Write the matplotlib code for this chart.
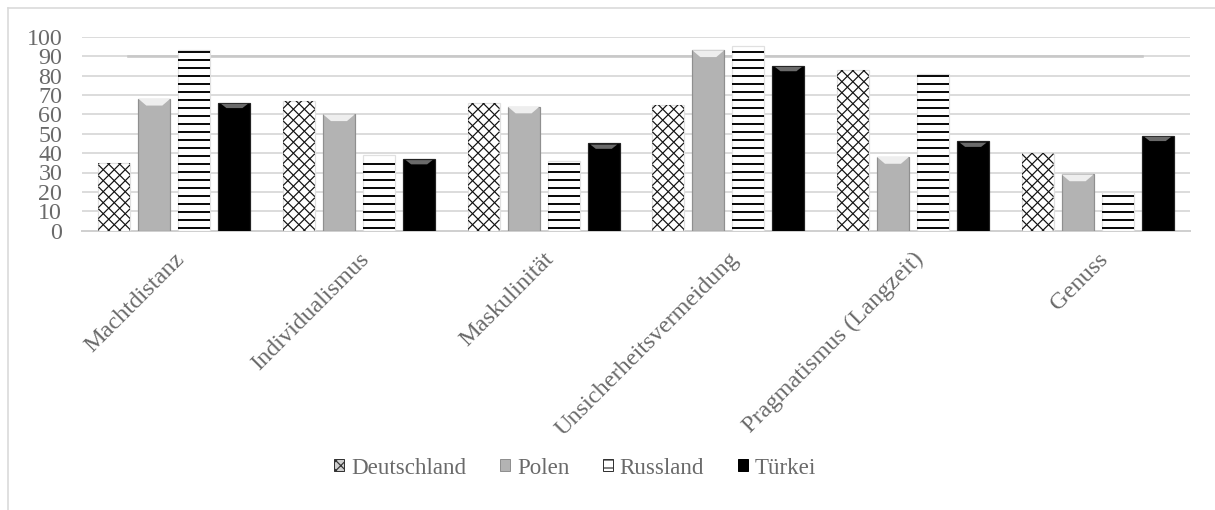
import numpy as np
import matplotlib
matplotlib.use("Agg")
import matplotlib.pyplot as plt
from matplotlib.lines import Line2D
from matplotlib.patches import Polygon, Patch
from matplotlib.collections import LineCollection

categories = ["Machtdistanz", "Individualismus", "Maskulinität",
              "Unsicherheitsvermeidung", "Pragmatismus (Langzeit)", "Genuss"]
deutschland = [35, 67, 66, 65, 83, 40]
polen = [68, 60, 64, 93, 38, 29]
russland = [93, 39, 36, 95, 81, 20]
tuerkei = [66, 37, 45, 85, 46, 49]
series_names = ["Deutschland", "Polen", "Russland", "Türkei"]
yticks = list(range(0, 101, 10))

plt.rcParams['font.family'] = ['Liberation Serif', 'DejaVu Serif']
plt.rcParams['hatch.linewidth'] = 0.6
TXT = '#6a6a6a'
DPI = 144

fig = plt.figure(figsize=(1215/DPI, 510/DPI), dpi=DPI)
ax = fig.add_axes([82/1215, (510-230.7)/510, 1108/1215, 194/510])

x = np.arange(len(categories))
step, width = 0.217, 0.173
offs = [-1.5, -0.5, 0.5, 1.5]

ax.set_xlim(-0.5, len(categories) - 0.5)
ax.set_ylim(0, 100)
ax.set_axisbelow(True)
ax.yaxis.grid(True, color='#d9d9d9', linewidth=0.9)
ax.axhline(90, xmin=(128-82)/1108, xmax=(1142-82)/1108, color='#c8c8c8', lw=1.3, zorder=1)

# pixel scale of the data axes
p0 = ax.transData.transform((0, 0))
p1 = ax.transData.transform((1, 1))
sx, sy = p1[0] - p0[0], p1[1] - p0[1]

styles = [
    dict(facecolor='white', edgecolor='#e0e0e0', linewidth=0.6),
    dict(facecolor='#b3b3b3', edgecolor='#8f8f8f', linewidth=0.6),
    dict(facecolor='white', edgecolor='#e0e0e0', linewidth=0.6),
    dict(facecolor='black', edgecolor='#222222', linewidth=0.6),
]
data = [deutschland, polen, russland, tuerkei]
for i, (vals, st) in enumerate(zip(data, styles)):
    bars = ax.bar(x + offs[i]*step, vals, width, zorder=3, **st)
    for b in bars:
        bx, bw, bh = b.get_x(), b.get_width(), b.get_height()
        wpx, hpx = bw * sx, bh * sy
        if i == 0:
            sp = 11.0
            segs = []
            for c in np.arange(-wpx, hpx + sp, sp):
                segs.append([(bx, (c) / sy), (bx + bw, (c + wpx) / sy)])
                segs.append([(bx, (c + wpx) / sy), (bx + bw, (c) / sy)])
            lc = LineCollection(segs, colors='#111111', linewidths=0.6, zorder=3.5)
            ax.add_collection(lc)
            lc.set_clip_path(b)
        elif i == 2:
            sp = 8.0
            ys = np.arange(3.0, hpx - 1.0, sp) / sy
            segs = [[(bx, yy), (bx + bw, yy)] for yy in ys]
            lc = LineCollection(segs, colors='black', linewidths=0.95, zorder=3.5)
            ax.add_collection(lc)
        elif i == 1:
            d = min(3.5, bh*0.2)
            ax.add_patch(Polygon([[bx, bh], [bx+bw, bh], [bx+bw*0.75, bh-d], [bx+bw*0.25, bh-d]],
                                 closed=True, facecolor='#eeeeee', edgecolor='none', zorder=4))
        else:
            ax.add_patch(Polygon([[bx+bw*0.08, bh-0.6], [bx+bw*0.92, bh-0.6], [bx+bw*0.75, bh-2.8], [bx+bw*0.25, bh-2.8]],
                                 closed=True, facecolor='#6a6a6a', edgecolor='none', zorder=4))

ax.set_yticks(yticks)
ax.set_yticklabels([str(t) for t in yticks], fontsize=12, color=TXT)
ax.tick_params(axis='y', length=0, pad=9.9)
ax.tick_params(axis='x', length=0, pad=9)
ax.set_xticks(x)
ax.set_xticklabels(categories, rotation=45, ha='right', rotation_mode='anchor',
                   fontsize=12.1, color=TXT)
for s in ['top', 'right', 'left']:
    ax.spines[s].set_visible(False)
ax.spines['bottom'].set_color('#d0d0d0')
ax.spines['bottom'].set_linewidth(1.0)

handles = [
    Patch(facecolor='#cfcfcf', edgecolor='#333333', hatch='xxxxx', linewidth=0.5),
    Patch(facecolor='#b3b3b3', edgecolor='#8f8f8f', linewidth=0.5),
    Patch(facecolor='white', edgecolor='#333333', hatch='---', linewidth=0.5),
    Patch(facecolor='black', edgecolor='black', linewidth=0.5),
]
leg = fig.legend(handles, series_names, loc='center', bbox_to_anchor=(575/1215, 1-468/510),
                 ncol=4, frameon=False, fontsize=11.5, handlelength=0.45, handleheight=0.45,
                 handletextpad=0.3, columnspacing=1.45, labelcolor=TXT)

fig.add_artist(Line2D([8/1215, 8/1215], [0, 1-8/510], transform=fig.transFigure, color='#d9d9d9', lw=0.8))
fig.add_artist(Line2D([8/1215, 1], [1-8/510, 1-8/510], transform=fig.transFigure, color='#d9d9d9', lw=0.8))

fig.savefig('out.png', dpi=DPI)
